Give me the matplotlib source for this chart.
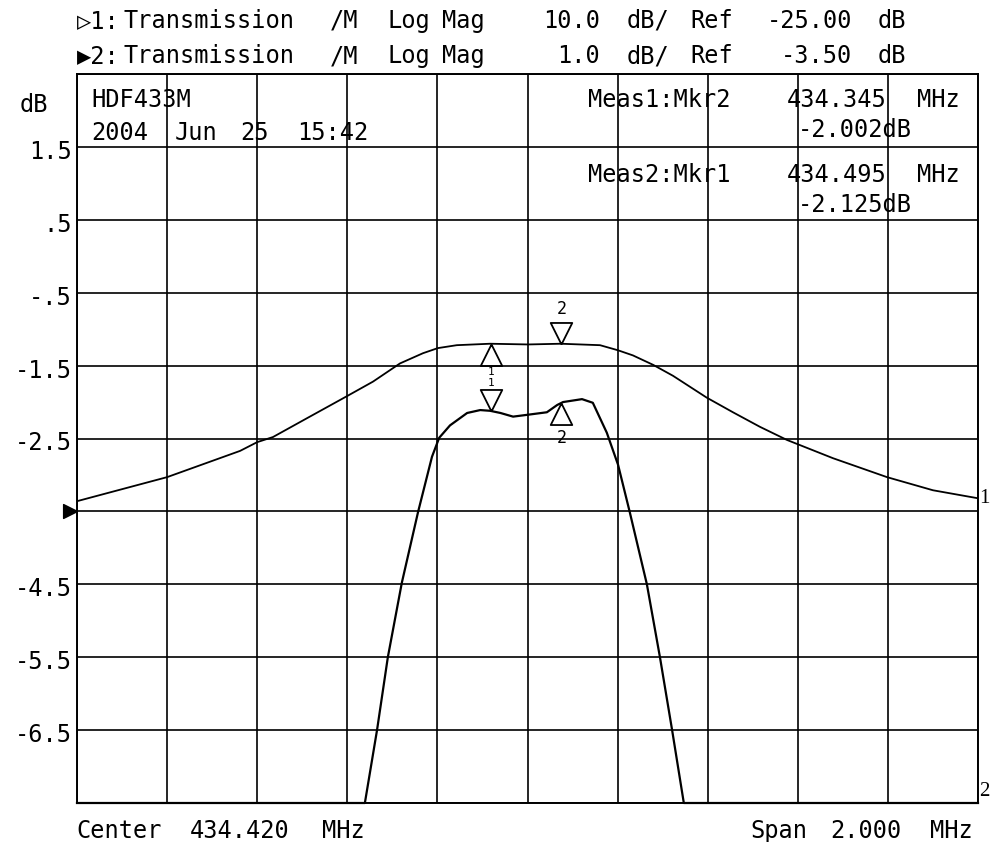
import numpy as np
import matplotlib
matplotlib.use("Agg")
import matplotlib.pyplot as plt
from matplotlib import transforms

# trace 1: 10 dB/div, ref -25 dB  (own dB units)
freq1 = [433.420, 433.620, 433.782, 433.820, 433.855, 433.931, 434.019, 434.077,
         434.137, 434.188, 434.221, 434.263, 434.337, 434.421, 434.494, 434.581,
         434.621, 434.654, 434.699, 434.743, 434.818, 434.876, 434.936, 434.996,
         435.098, 435.218, 435.320, 435.420]
trace1_db = [-23.6, -20.3, -16.7, -15.5, -14.8, -12.2, -9.2, -7.2,
             -4.7, -3.3, -2.6, -2.2, -2.0, -2.1, -2.0, -2.2,
             -2.9, -3.6, -4.9, -6.4, -9.4, -11.4, -13.4, -15.2,
             -17.7, -20.3, -22.1, -23.2]

# trace 2: 1 dB/div, ref -3.5 dB (clipped at bottom of screen)
freq2 = [433.420, 434.059, 434.086, 434.110, 434.141, 434.177, 434.208, 434.224,
         434.248, 434.286, 434.315, 434.337, 434.360, 434.388, 434.426, 434.463,
         434.486, 434.499, 434.541, 434.565, 434.596, 434.621, 434.647, 434.685,
         434.714, 434.741, 434.767, 435.420]
trace2_db = [-7.5, -7.5, -6.5, -5.5, -4.48, -3.51, -2.75, -2.49,
             -2.32, -2.15, -2.11, -2.12, -2.15, -2.20, -2.17, -2.14,
             -2.04, -2.00, -1.96, -2.01, -2.42, -2.86, -3.51, -4.50,
             -5.50, -6.50, -7.5, -7.5]

marker_freqs = [434.340, 434.495]
marker_names = ["1", "2"]

ytick_vals = [1.5, 0.5, -0.5, -1.5, -2.5, -4.5, -5.5, -6.5]
ytick_labels = ["1.5", ".5", "-.5", "-1.5", "-2.5", "-4.5", "-5.5", "-6.5"]

ref1, scale1 = -25.0, 10.0
ref2, scale2 = -3.5, 1.0
center, span = 434.420, 2.0

W, H = 990, 842
MONO = ["DejaVu Sans Mono", "DejaVu Sans"]
SERIF = ["Liberation Serif", "DejaVu Serif"]
FS = 17

fig = plt.figure(figsize=(W / 100, H / 100), dpi=100)
ax = fig.add_axes([77 / W, 1 - 803 / H, 901 / W, 729 / H])

x0, x1 = center - span / 2, center + span / 2
ax.set_xlim(x0, x1)
ax.set_ylim(ref2 - 4 * scale2, ref2 + 6 * scale2)
ax.set_xticks(np.linspace(x0, x1, 11))
ax.set_yticks(np.linspace(ref2 - 4 * scale2, ref2 + 6 * scale2, 11))
ax.grid(True, color="black", lw=1.2)
ax.set_axisbelow(True)
ax.tick_params(length=0, labelbottom=False, labelleft=False)
for s in ax.spines.values():
    s.set_linewidth(1.4)

# trace 1 mapped onto the trace 2 screen scale
disp1 = ref2 + (np.array(trace1_db) - ref1) / scale1 * scale2
disp2 = np.array(trace2_db)
ax.plot(freq1, disp1, color="black", lw=1.3, zorder=4)
ax.plot(freq2, disp2, color="black", lw=1.6, zorder=4, clip_on=False)

down_tri = [(0, 0), (-0.5, 1), (0.5, 1), (0, 0)]
up_tri = [(0, 0), (-0.5, -1), (0.5, -1), (0, 0)]
mk = dict(ms=31, mfc="none", mec="black", mew=1.3, ls="none", zorder=6, clip_on=False)

m1 = np.interp(marker_freqs, freq1, disp1)
m2 = np.interp(marker_freqs, freq2, disp2)
# trace 1: marker 1 below (up triangle), marker 2 above (down triangle)
ax.plot([marker_freqs[0]], [m1[0]], marker=up_tri, **mk)
ax.plot([marker_freqs[1]], [m1[1]], marker=down_tri, **mk)
# trace 2: marker 1 above (down triangle), marker 2 below (up triangle)
ax.plot([marker_freqs[0]], [m2[0]], marker=down_tri, **mk)
ax.plot([marker_freqs[1]], [m2[1]], marker=up_tri, **mk)

lab = dict(textcoords="offset pixels", ha="center", va="center", family=MONO)
ax.annotate(marker_names[0], (marker_freqs[0], m1[0]), xytext=(0, -28), fontsize=8, **lab)
ax.annotate(marker_names[1], (marker_freqs[1], m1[1]), xytext=(0, 35), fontsize=12, **lab)
ax.annotate(marker_names[0], (marker_freqs[0], m2[0]), xytext=(0, 28), fontsize=8, **lab)
ax.annotate(marker_names[1], (marker_freqs[1], m2[1]), xytext=(0, -35), fontsize=12, **lab)

# trace end labels
ax.annotate("1", (freq1[-1], disp1[-1]), xytext=(1, 0), textcoords="offset pixels",
            ha="left", va="center", family=SERIF, fontsize=15, annotation_clip=False)
ax.annotate("2", (freq2[-1], disp2[-1]), xytext=(1, 12), textcoords="offset pixels",
            ha="left", va="center", family=SERIF, fontsize=15, annotation_clip=False)

# reference position marker
ax.plot([x0], [ref2], marker=[(0, 0), (-1, 0.5), (-1, -0.5), (0, 0)], ms=20,
        color="black", ls="none", clip_on=False, zorder=6)

# y labels
tr = transforms.blended_transform_factory(ax.transAxes, ax.transData)
tr = transforms.offset_copy(tr, fig=fig, x=-5, y=-5, units="dots")
for v, t in zip(ytick_vals, ytick_labels):
    ax.text(0, v, t, transform=tr, ha="right", va="center", family=MONO, fontsize=FS)


def put(x, y, s, ha="left", fs=FS):
    fig.text(x / W, 1 - y / H, s, ha=ha, va="baseline", family=MONO, fontsize=fs)


# header lines
for x, s in [(77, "\u25b71:"), (123, "Transmission"), (330, "/M"), (388, "Log"),
             (442, "Mag"), (600, "10.0"), (627, "dB/"), (690, "Ref"),
             (852, "-25.00"), (878, "dB")]:
    put(x, 28, s, ha="right" if s in ("10.0", "-25.00") else "left")
for x, s in [(77, "\u25b62:"), (123, "Transmission"), (330, "/M"), (388, "Log"),
             (442, "Mag"), (600, "1.0"), (627, "dB/"), (690, "Ref"),
             (852, "-3.50"), (878, "dB")]:
    put(x, 63, s, ha="right" if s in ("1.0", "-3.50") else "left")

put(20, 112, "dB")
put(91, 107, "HDF433M")
for x, s in [(91, "2004"), (175, "Jun"), (240, "25"), (297, "15:42")]:
    put(x, 140, s)

put(588, 107, "Meas1:Mkr2")
put(787, 107, "434.345")
put(917, 107, "MHz")
put(798, 137, "-2.002dB")
put(588, 182, "Meas2:Mkr1")
put(787, 182, "434.495")
put(917, 182, "MHz")
put(798, 212, "-2.125dB")

# footer
put(76, 838, "Center")
put(190, 838, "434.420")
put(322, 838, "MHz")
put(750, 838, "Span")
put(830, 838, "2.000")
put(930, 838, "MHz")

fig.savefig("out.png", dpi=100)
